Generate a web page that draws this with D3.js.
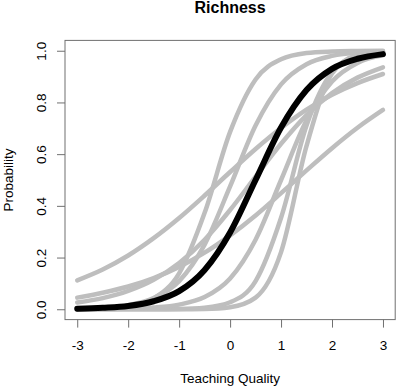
<!DOCTYPE html>
<html>
<head>
<meta charset="utf-8">
<script src="https://cdn.jsdelivr.net/npm/d3@7"></script>
<style>
  body { margin: 0; background: #fff; }
  text { font-family: "Liberation Sans", Arial, sans-serif; }
</style>
</head>
<body>
<div id="chart-area"></div>
<script>
// teaching quality grid and probabilities
var theta = [-3, -2.5, -2, -1.5, -1, -0.5, 0, 0.5, 1, 1.5, 2, 2.5, 3];

var overall = [0.002, 0.006, 0.013, 0.031, 0.070, 0.152, 0.297, 0.500, 0.703, 0.848, 0.930, 0.969, 0.987];

var item1 = [0.001, 0.003, 0.012, 0.042, 0.139, 0.373, 0.686, 0.889, 0.967, 0.991, 0.997, 0.999, 1.000];
var item2 = [0.002, 0.006, 0.016, 0.043, 0.109, 0.250, 0.475, 0.711, 0.870, 0.948, 0.980, 0.993, 0.997];
var item3 = [0.112, 0.154, 0.208, 0.275, 0.353, 0.440, 0.531, 0.620, 0.701, 0.772, 0.830, 0.875, 0.910];
var item4 = [0.045, 0.064, 0.088, 0.121, 0.164, 0.219, 0.286, 0.363, 0.449, 0.537, 0.623, 0.702, 0.771];
var item5 = [0.026, 0.043, 0.071, 0.114, 0.179, 0.269, 0.384, 0.513, 0.640, 0.751, 0.836, 0.896, 0.936];
var item6 = [0.000, 0.000, 0.000, 0.000, 0.001, 0.006, 0.027, 0.109, 0.354, 0.711, 0.917, 0.980, 0.996];
var item7 = [0.000, 0.000, 0.000, 0.000, 0.000, 0.001, 0.008, 0.045, 0.221, 0.632, 0.912, 0.984, 0.997];
var item8 = [0.000, 0.001, 0.003, 0.007, 0.018, 0.047, 0.119, 0.269, 0.500, 0.731, 0.881, 0.953, 0.982];

var items = [item1, item2, item3, item4, item5, item6, item7, item8];

var xTicks = [-3, -2, -1, 0, 1, 2, 3];
var yTicks = [0, 0.2, 0.4, 0.6, 0.8, 1.0];

var width = 397;
var height = 388;
var margin = {top: 40.4, bottom: 68.4, left: 65, right: 1.8};

var svg = d3.select("#chart-area").append("svg")
    .attr("width", width)
    .attr("height", height);

var x = d3.scaleLinear()
    .domain([-3.24, 3.24])
    .range([margin.left, width - margin.right]);

var y = d3.scaleLinear()
    .domain([-0.04, 1.04])
    .range([height - margin.bottom, margin.top]);

var line = d3.line()
    .x((d, i) => x(theta[i]))
    .y((d) => y(d))
    .curve(d3.curveMonotoneX);

// grey item curves
svg.append("g").selectAll("path")
    .data(items)
    .enter().append("path")
    .attr("d", line)
    .attr("fill", "none")
    .attr("stroke", "#bebebe")
    .attr("stroke-width", 4.5)
    .attr("stroke-linecap", "round")
    .attr("stroke-linejoin", "round");

// overall curve
svg.append("path")
    .datum(overall)
    .attr("d", line)
    .attr("fill", "none")
    .attr("stroke", "#000")
    .attr("stroke-width", 6)
    .attr("stroke-linecap", "round")
    .attr("stroke-linejoin", "round");

// box
svg.append("rect")
    .attr("x", margin.left)
    .attr("y", margin.top)
    .attr("width", width - margin.left - margin.right)
    .attr("height", height - margin.top - margin.bottom)
    .attr("fill", "none")
    .attr("stroke", "#707070")
    .attr("stroke-width", 1);

var xAxisGroup = svg.append("g")
    .attr("transform", "translate(0," + (height - margin.bottom) + ")")
    .call(d3.axisBottom(x).tickValues(xTicks).tickSize(8).tickPadding(13)
        .tickFormat((d) => d));

var yAxisGroup = svg.append("g")
    .attr("transform", "translate(" + margin.left + ",0)")
    .call(d3.axisLeft(y).tickValues(yTicks).tickSize(8)
        .tickFormat(d3.format(".1f")));

svg.selectAll(".domain").remove();
svg.selectAll(".tick line").attr("stroke", "#707070");
svg.selectAll(".tick text")
    .attr("font-family", "Liberation Sans, Arial, sans-serif")
    .attr("font-size", "13.5px")
    .attr("fill", "#000");

yAxisGroup.selectAll(".tick text")
    .attr("transform", "rotate(-90)")
    .attr("x", 0)
    .attr("y", -19.5)
    .attr("dy", 0)
    .attr("text-anchor", "middle");

svg.append("text")
    .attr("x", (margin.left + width - margin.right) / 2)
    .attr("y", 13.3)
    .attr("text-anchor", "middle")
    .attr("font-size", "16px")
    .attr("font-weight", "bold")
    .text("Richness");

svg.append("text")
    .attr("x", (margin.left + width - margin.right) / 2)
    .attr("y", 383)
    .attr("text-anchor", "middle")
    .attr("font-size", "13.5px")
    .text("Teaching Quality");

svg.append("text")
    .attr("transform", "translate(12.5," + ((margin.top + height - margin.bottom) / 2) + ") rotate(-90)")
    .attr("text-anchor", "middle")
    .attr("font-size", "13.5px")
    .text("Probability");
</script>
</body>
</html>
